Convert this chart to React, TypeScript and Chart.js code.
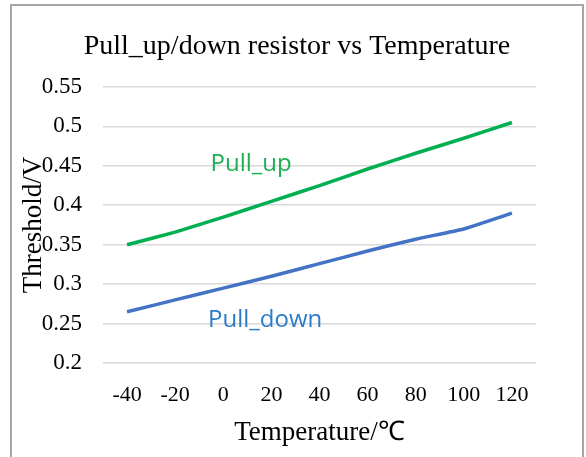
import React, { useEffect, useRef } from "react";
import { Chart, registerables } from "chart.js";

Chart.register(...registerables);

const categories = ["-40", "-20", "0", "20", "40", "60", "80", "100", "120"];
const pullUp = [0.35, 0.366, 0.385, 0.405, 0.425, 0.446, 0.466, 0.485, 0.505];
const pullDown = [0.265, 0.28, 0.295, 0.31, 0.326, 0.342, 0.357, 0.37, 0.39];
const yTickValues = [0.2, 0.25, 0.3, 0.35, 0.4, 0.45, 0.5, 0.55];

const titleText = "Pull_up/down resistor vs Temperature";
const xTitle = "Temperature/℃";
const yTitle = "Threshold/V";

// series labels placed in data coordinates (category index, value)
const upLabel = { text: "Pull_up", x: 2.58, y: 0.4525, color: "#1DB052" };
const downLabel = { text: "Pull_down", x: 2.87, y: 0.2542, color: "#2B7BCB" };

const serif = "'Liberation Serif', 'Times New Roman', serif";
const sans = "'Open Sans', 'Noto Sans', sans-serif";

const labelPlugin = {
  id: "seriesLabels",
  afterDatasetsDraw(chart: any) {
    const { ctx, scales } = chart;
    ctx.save();
    ctx.font = `24px ${sans}`;
    ctx.textAlign = "center";
    ctx.textBaseline = "middle";
    for (const l of [upLabel, downLabel]) {
      ctx.fillStyle = l.color;
      ctx.fillText(l.text, scales.x.getPixelForValue(l.x), scales.y.getPixelForValue(l.y));
    }
    // chart title, centred on the framed chart
    ctx.fillStyle = "#000";
    ctx.font = `28px ${serif}`;
    ctx.fillText(titleText, 297, 47);
    ctx.restore();
  },
};

export default function App() {
  const ref = useRef<HTMLCanvasElement>(null);
  useEffect(() => {
    document.body.style.margin = "0";
    const chart = new Chart(ref.current!, {
      type: "line",
      data: {
        labels: categories,
        datasets: [
          {
            label: "Pull_up",
            data: pullUp,
            borderColor: "#00B050",
            borderWidth: 3.5,
            pointRadius: 0,
            tension: 0.1,
          },
          {
            label: "Pull_down",
            data: pullDown,
            borderColor: "#4472C4",
            borderWidth: 3.5,
            pointRadius: 0,
            tension: 0.1,
          },
        ],
      },
      plugins: [labelPlugin],
      options: {
        responsive: false,
        animation: false,
        layout: { padding: { left: 0, right: 50, top: 87, bottom: 0 } },
        plugins: {
          legend: { display: false },
          tooltip: { enabled: false },
          title: { display: false },
        },
        scales: {
          x: {
            offset: true,
            grid: { display: false, drawTicks: false },
            border: { display: false },
            ticks: { color: "#000", font: { family: serif, size: 22 }, padding: 19, maxRotation: 0 },
            title: {
              display: true,
              text: xTitle,
              color: "#000",
              font: { family: serif, size: 27 },
              padding: { top: 0, bottom: 8 },
            },
            afterFit(scale: any) {
              scale.height = 94;
            },
          },
          y: {
            min: 0.2,
            max: 0.55,
            grid: { color: "#D9D9D9", lineWidth: 1.6, drawTicks: false },
            border: { display: false },
            afterBuildTicks(scale: any) {
              scale.ticks = yTickValues.map((v) => ({ value: v }));
            },
            ticks: {
              color: "#000",
              font: { family: serif, size: 23 },
              padding: 21,
              callback: (v: any) => String(Number(Number(v).toFixed(2))),
            },
            title: {
              display: true,
              text: yTitle,
              color: "#000",
              font: { family: serif, size: 27 },
              padding: { top: 18, bottom: 0 },
            },
            afterFit(scale: any) {
              scale.width = 103;
            },
          },
        },
      },
    });
    return () => chart.destroy();
  }, []);
  return (
    <div style={{ position: "relative", width: 586, height: 457, overflow: "hidden", background: "#fff" }}>
      <div
        style={{
          position: "absolute",
          left: 10,
          top: 4,
          width: 574,
          height: 480,
          border: "2px solid #A6A6A6",
          boxSizing: "border-box",
        }}
      />
      <canvas ref={ref} width={586} height={457} style={{ position: "absolute", left: 0, top: 0 }} />
    </div>
  );
}
